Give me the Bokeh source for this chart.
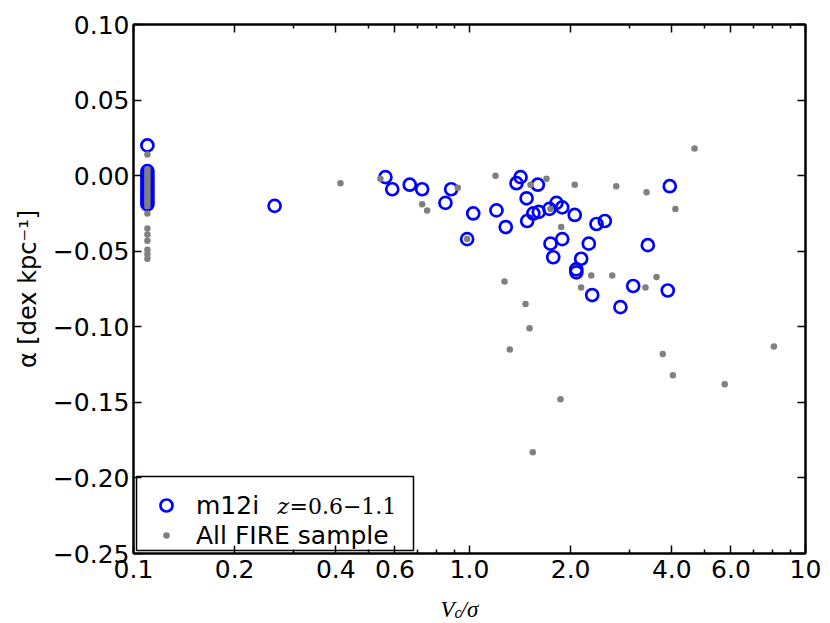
from bokeh.plotting import figure
from bokeh.layouts import column
from bokeh.models import (FixedTicker, LinearAxis, LogAxis, Legend, LegendItem, Label,
                          ColumnDataSource, BoxAnnotation)
from bokeh.embed import file_html
from bokeh.resources import INLINE

# ---------------- data ----------------
m12i_vsigma = [0.11, 0.11, 0.11, 0.11, 0.11, 0.11, 0.11, 0.11, 0.11, 0.11, 0.11, 0.11, 0.11,
               0.263, 0.562, 0.589, 0.664, 0.723, 0.882, 0.848, 1.026, 0.984, 1.203, 1.282,
               1.419, 1.380, 1.597, 1.479, 1.485, 1.549, 1.608, 1.730, 1.815, 1.888, 2.057,
               1.742, 1.888, 1.775, 2.265, 2.149, 2.078, 2.080, 2.388, 2.528, 2.318, 2.813,
               3.070, 3.945, 3.394, 3.891]
m12i_alpha = [0.020, 0.003, 0.001, -0.001, -0.003, -0.005, -0.007, -0.009, -0.011, -0.013, -0.015, -0.017, -0.019,
              -0.020, -0.001, -0.009, -0.006, -0.009, -0.009, -0.018, -0.025, -0.042, -0.023, -0.034,
              -0.001, -0.005, -0.006, -0.015, -0.030, -0.025, -0.024, -0.022, -0.018, -0.021, -0.026,
              -0.045, -0.042, -0.054, -0.045, -0.055, -0.062, -0.064, -0.032, -0.030, -0.079, -0.087,
              -0.073, -0.007, -0.046, -0.076]

fire_vsigma = [0.11, 0.11, 0.11, 0.11, 0.11, 0.11, 0.11, 0.11, 0.11, 0.11, 0.11, 0.11, 0.11, 0.11,
               0.11, 0.11, 0.11, 0.11, 0.11, 0.11, 0.11,
               0.413, 0.543, 0.723, 0.748, 0.923, 0.984, 1.195, 1.695, 1.519, 2.057, 2.733,
               1.742, 1.875, 1.271, 1.468, 2.303, 2.660, 2.149, 4.675, 3.364, 4.100, 3.602,
               3.340, 1.509, 1.318, 1.866, 1.543, 3.760, 4.030, 5.750, 8.050]
fire_alpha = [0.014, 0.004, 0.002, 0.000, -0.002, -0.004, -0.006, -0.008, -0.010, -0.012, -0.014, -0.016, -0.018, -0.020,
              -0.025, -0.035, -0.039, -0.043, -0.049, -0.052, -0.055,
              -0.005, -0.002, -0.019, -0.023, -0.008, -0.042, 0.000, -0.002, -0.006, -0.006, -0.007,
              -0.022, -0.034, -0.070, -0.085, -0.066, -0.066, -0.074, 0.018, -0.011, -0.022, -0.067,
              -0.074, -0.101, -0.115, -0.148, -0.183, -0.118, -0.132, -0.138, -0.113]

x_major = [0.1, 0.2, 0.4, 0.6, 1.0, 2.0, 4.0, 6.0, 10.0]
x_major_labels = ["0.1", "0.2", "0.4", "0.6", "1.0", "2.0", "4.0", "6.0", "10"]
x_minor = [0.3, 0.5, 0.7, 0.8, 0.9, 3.0, 5.0, 7.0, 8.0, 9.0]
y_ticks = [-0.25, -0.20, -0.15, -0.10, -0.05, 0.0, 0.05, 0.10]
y_tick_labels = ["\u22120.25", "\u22120.20", "\u22120.15", "\u22120.10", "\u22120.05", "0.00", "0.05", "0.10"]

series_labels = ["m12i", "All FIRE sample"]
redshift_text = "=0.6\u22121.1"
y_label = "\u03b1 [dex kpc\u207b\u00b9]"

# ---------------- figure ----------------
X_RANGE = (0.1, 10.0)
Y_RANGE = (-0.25, 0.10)
FW, FH = 672, 529
BL, BR, BT, BB = 133, 17, 24, 36
FONT = "DejaVu Sans"

p = figure(x_axis_type="log", x_range=X_RANGE, y_range=Y_RANGE,
           frame_width=FW, frame_height=FH,
           min_border_left=BL, min_border_right=BR, min_border_top=BT, min_border_bottom=BB,
           output_backend="svg", toolbar_location=None, align="start",
           background_fill_color="white", border_fill_color="white")
p.xgrid.visible = False
p.ygrid.visible = False
p.outline_line_color = "black"
p.outline_line_width = 2


def style_axis(ax, minor=True):
    ax.axis_line_color = "black"
    ax.axis_line_width = 2
    ax.major_tick_in = 8
    ax.major_tick_out = 0
    ax.major_tick_line_color = "black"
    ax.major_tick_line_width = 1.5
    if minor:
        ax.minor_tick_in = 4
        ax.minor_tick_out = 0
        ax.minor_tick_line_color = "black"
        ax.minor_tick_line_width = 1.5
    else:
        ax.minor_tick_line_color = None
    ax.major_label_text_font = FONT
    ax.major_label_text_font_size = "25px"
    ax.major_label_text_color = "black"


xax = p.below[0]
xax.ticker = FixedTicker(ticks=x_major, minor_ticks=x_minor)
xax.major_label_overrides = dict(zip(x_major, x_major_labels))
style_axis(xax)
xax.major_label_standoff = 6

yax = p.left[0]
yax.ticker = FixedTicker(ticks=y_ticks)
yax.major_label_overrides = dict(zip(y_ticks, y_tick_labels))
style_axis(yax, minor=False)
yax.major_label_standoff = 4
yax.axis_label = y_label
yax.axis_label_text_font = FONT
yax.axis_label_text_font_size = "24px"
yax.axis_label_text_font_style = "normal"
yax.axis_label_text_color = "black"
yax.axis_label_standoff = 8

top_ax = LogAxis(ticker=FixedTicker(ticks=x_major, minor_ticks=x_minor),
                 major_label_overrides={t: "" for t in x_major})
style_axis(top_ax)
top_ax.major_label_text_font_size = "1px"
top_ax.major_label_standoff = 0
p.add_layout(top_ax, "above")

right_ax = LinearAxis(ticker=FixedTicker(ticks=y_ticks),
                      major_label_overrides={t: "" for t in y_ticks})
style_axis(right_ax, minor=False)
right_ax.major_label_text_font_size = "1px"
right_ax.major_label_standoff = 0
p.add_layout(right_ax, "right")


def fx(px):
    """frame pixels from the left edge -> data x (log axis)"""
    return X_RANGE[0] * (X_RANGE[1] / X_RANGE[0]) ** (px / FW)


def fy(px):
    """frame pixels from the bottom edge -> data y"""
    return Y_RANGE[0] + (Y_RANGE[1] - Y_RANGE[0]) * px / FH


# legend box (drawn beneath everything else)
p.add_layout(BoxAnnotation(left=fx(3), right=fx(280), bottom=fy(3), top=fy(77),
                           fill_color="white", fill_alpha=1.0,
                           line_color="black", line_alpha=1.0, line_width=1.5,
                           level="underlay"))

# ---------------- data marks ----------------
m12i_src = ColumnDataSource(dict(x=m12i_vsigma, y=m12i_alpha))
fire_src = ColumnDataSource(dict(x=fire_vsigma, y=fire_alpha))

blue = p.scatter("x", "y", source=m12i_src, marker="circle", size=12,
                 fill_color=None, line_color="#0000ff", line_width=2.7)
gray = p.scatter("x", "y", source=fire_src, marker="circle", size=6.5,
                 fill_color="#808080", line_color=None)
# legend key for the gray dots (hidden renderer, same data); the white ring
# shrinks the legend dot down to the size of the plotted dots
gray_key = p.scatter("x", "y", source=fire_src, marker="circle", size=12,
                     fill_color="#808080", line_color="white", line_width=5.4,
                     visible=False)

legend = Legend(items=[LegendItem(label=series_labels[0], renderers=[blue]),
                       LegendItem(label=series_labels[1], renderers=[gray_key])],
                location="bottom_left", margin=3, padding=7, spacing=0,
                glyph_width=60, glyph_height=30, label_height=30, label_width=203,
                label_standoff=0, label_text_font=FONT, label_text_font_size="25px",
                label_text_color="black", click_policy="none",
                border_line_color=None, background_fill_alpha=0.0)
p.add_layout(legend)

# redshift part of the first legend entry
p.add_layout(Label(x=fx(144), y=fy(47), text="z", text_font="DejaVu Serif",
                   text_font_style="italic", text_font_size="22px",
                   text_baseline="alphabetic", text_align="left", text_color="black"))
p.add_layout(Label(x=fx(156), y=fy(47), text=redshift_text, text_font="DejaVu Serif",
                   text_font_size="22px", text_baseline="alphabetic", text_align="left",
                   text_color="black"))

# ---------------- x axis label  V_c / sigma (strip below the plot) ----------------
# the strip's frame is aligned with the main frame; x = pixels from the frame's left edge
LH = 32
lab = figure(frame_width=FW, frame_height=LH, x_range=(0, FW), y_range=(0, LH),
             x_axis_location=None, y_axis_location=None,
             min_border_left=BL, min_border_right=BR,
             min_border_top=0, min_border_bottom=0, align="start",
             output_backend="svg", toolbar_location=None,
             background_fill_color="white", border_fill_color="white")
lab.xgrid.visible = False
lab.ygrid.visible = False
lab.outline_line_color = None

for x0, y0, txt, size in [(307, 12, "V", "23px"), (321, 9, "c", "16px"), (327, 12, "/\u03c3", "23px")]:
    lab.add_layout(Label(x=x0, y=y0, text=txt, text_font="Liberation Serif",
                         text_font_style="italic", text_font_size=size,
                         text_baseline="alphabetic", text_align="left", text_color="black"))

layout = column(p, lab, spacing=0, align="start")
open("out.html", "w").write(file_html(layout, INLINE))
